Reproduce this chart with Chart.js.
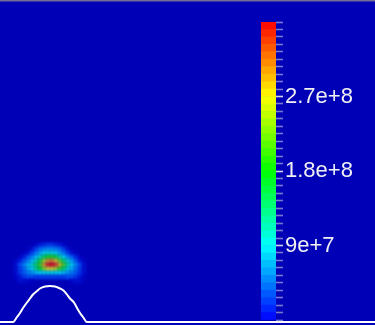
<!DOCTYPE html>
<html>
<head>
<meta charset="utf-8">
<script src="https://cdn.jsdelivr.net/npm/chart.js@4"></script>
<style>
  html, body { margin: 0; padding: 0; background: rgb(0, 0, 182); overflow: hidden; }
  #wrap { position: relative; width: 375px; height: 325px; }
  #field { position: absolute; left: 0; top: 0; }
  #bar { position: absolute; left: 261px; top: 0; }
</style>
</head>
<body>
<div id="wrap">
  <canvas id="field" width="375" height="325"></canvas>
  <canvas id="bar" width="114" height="325"></canvas>
</div>
<script>
// color range of the legend bar
const colorMin = 0;
const colorMax = 3.576e8;
const bandCount = 40; // ticks / colour steps on the bar
const colorLabels = { 10: "9e+7", 20: "1.8e+8", 30: "2.7e+8" };

// field sample grid (values in 1e8)
const heatX = [16, 20, 24, 28, 32, 36, 40, 44, 48, 52, 56, 60, 64, 68, 72, 76, 80, 84];
const heatY = [245, 249, 253, 257, 261, 265, 269, 273, 277, 281];
const heatRows = [
  [0, 0, 0, 0, 0, 0.1, 0.2, 0.25, 0.3, 0.3, 0.25, 0.2, 0.1, 0, 0, 0, 0, 0],
  [0, 0, 0, 0.05, 0.15, 0.3, 0.45, 0.55, 0.6, 0.6, 0.55, 0.45, 0.3, 0.15, 0.05, 0, 0, 0],
  [0, 0, 0.05, 0.15, 0.3, 0.5, 0.7, 0.9, 1.0, 1.0, 0.9, 0.7, 0.5, 0.3, 0.15, 0.05, 0, 0],
  [0, 0.1, 0.2, 0.35, 0.55, 0.8, 1.1, 1.55, 1.85, 1.9, 1.65, 1.25, 0.9, 0.6, 0.4, 0.25, 0.1, 0],
  [0.1, 0.2, 0.35, 0.55, 0.8, 1.15, 1.7, 2.4, 2.95, 3.05, 2.75, 2.15, 1.5, 1.05, 0.7, 0.4, 0.2, 0.1],
  [0.15, 0.35, 0.55, 0.8, 1.05, 1.5, 2.0, 2.9, 3.45, 3.55, 3.35, 2.8, 2.05, 1.3, 0.9, 0.6, 0.35, 0.15],
  [0.15, 0.3, 0.45, 0.7, 0.95, 1.3, 1.75, 2.3, 2.7, 2.7, 2.5, 1.95, 1.5, 1.05, 0.75, 0.5, 0.3, 0.15],
  [0.15, 0.3, 0.4, 0.55, 0.65, 0.8, 0.9, 0.95, 1.0, 1.0, 0.95, 0.9, 0.8, 0.65, 0.55, 0.4, 0.3, 0.15],
  [0.1, 0.2, 0.3, 0.35, 0.35, 0.3, 0.3, 0.3, 0.3, 0.3, 0.3, 0.3, 0.3, 0.35, 0.35, 0.3, 0.2, 0.1],
  [0.05, 0.15, 0.15, 0.1, 0.05, 0, 0, 0, 0, 0, 0, 0, 0, 0, 0.1, 0.15, 0.15, 0.05]
];

// white wall outline (bump on the floor)
const wallX = [0, 13, 17, 20, 23, 27, 30, 33, 37, 40, 45, 50, 55, 60, 64, 67, 70, 74, 77, 80, 83, 87, 375];
const wallY = [322, 322, 317, 313, 308, 302.5, 298.5, 294.5, 291, 288.5, 286.5, 286, 286.5, 288.5, 291, 294.5, 298.5, 302.5, 308, 313, 317, 322, 322];

const bg = [0, 0, 182];

// blue -> red rainbow (hsv)
function rainbow(v) {
  const t = Math.min(1, Math.max(0, (v - colorMin) / (colorMax - colorMin)));
  const h = 240 * (1 - t) / 60;
  const i = Math.min(3, Math.floor(h));
  const f = h - i;
  let r, g, b;
  switch (i) {
    case 0: r = 1; g = f; b = 0; break;
    case 1: r = 1 - f; g = 1; b = 0; break;
    case 2: r = 0; g = 1; b = f; break;
    default: r = 0; g = 1 - f; b = 1;
  }
  return [r * 255, g * 255, b * 255];
}

function cellColor(v) {
  const c = rainbow(v);
  const a = Math.min(1, v / 0.35e8);
  const mix = c.map((x, k) => Math.round(a * x + (1 - a) * bg[k]));
  return `rgb(${mix[0]},${mix[1]},${mix[2]})`;
}

const cells = [];
heatRows.forEach((row, r) => {
  row.forEach((v, c) => {
    if (v > 0) cells.push({ x: heatX[c], y: heatY[r], v: v * 1e8 });
  });
});

const wall = wallX.map((x, i) => ({ x, y: wallY[i] }));

// soften the sampled cells a little
const soften = {
  id: "soften",
  beforeDatasetDraw(chart, args) {
    if (args.index === 0) {
      chart.ctx.save();
      chart.ctx.filter = "blur(1.4px)";
    }
  },
  afterDatasetDraw(chart, args) {
    if (args.index === 0) chart.ctx.restore();
  },
};

new Chart(document.getElementById("field"), {
  type: "scatter",
  data: {
    datasets: [
      {
        data: cells,
        order: 1,
        pointStyle: "rect",
        pointRadius: 2.83,
        borderWidth: 0,
        backgroundColor: (c) => (c.raw ? cellColor(c.raw.v) : "rgba(0,0,0,0)"),
      },
      {
        data: wall,
        order: 0,
        showLine: true,
        borderColor: "#ffffff",
        borderWidth: 2,
        pointRadius: 0,
        cubicInterpolationMode: "monotone",
      },
      {
        data: [{ x: 0, y: 0.8 }, { x: 375, y: 0.8 }],
        order: 0,
        showLine: true,
        borderColor: "rgb(110,110,150)",
        borderWidth: 1.6,
        pointRadius: 0,
      },
    ],
  },
  options: {
    responsive: false,
    animation: false,
    events: [],
    layout: { padding: 0, autoPadding: false },
    plugins: { legend: { display: false }, tooltip: { enabled: false } },
    scales: {
      x: { type: "linear", min: 0, max: 375, display: false },
      y: { type: "linear", min: 0, max: 325, reverse: true, display: false },
    },
  },
  plugins: [soften],
});

// legend bar
const bandSize = (colorMax - colorMin) / bandCount;
const bands = [];
for (let k = 0; k < bandCount; k++) {
  const mid = colorMin + (k + 0.5) * bandSize;
  const c = rainbow(mid).map(Math.round);
  bands.push({
    data: [bandSize],
    backgroundColor: `rgb(${c[0]},${c[1]},${c[2]})`,
    borderWidth: 0,
    barPercentage: 1,
    categoryPercentage: 1,
  });
}

new Chart(document.getElementById("bar"), {
  type: "bar",
  data: { labels: [""], datasets: bands },
  options: {
    responsive: false,
    animation: false,
    events: [],
    layout: { padding: { top: 22, bottom: 5, left: 0, right: 0 } },
    plugins: { legend: { display: false }, tooltip: { enabled: false } },
    scales: {
      x: { stacked: true, display: false },
      y: {
        stacked: true,
        position: "right",
        min: colorMin,
        max: colorMax,
        afterBuildTicks: (s) => {
          s.ticks = [];
          for (let i = 0; i <= bandCount; i++) s.ticks.push({ value: colorMin + i * bandSize });
        },
        afterFit: (s) => {
          s.width = 99;
          s.paddingTop = 0;
          s.paddingBottom = 0;
        },
        border: { display: false },
        grid: {
          drawOnChartArea: false,
          drawTicks: true,
          tickLength: 7,
          tickWidth: 1.6,
          tickColor: (c) => (colorLabels[c.index] ? "rgba(235,235,245,0.9)" : "rgba(185,185,225,0.65)"),
        },
        ticks: {
          autoSkip: false,
          padding: 2,
          color: "#f0f0f4",
          font: { family: "'Liberation Sans', Arial, sans-serif", size: 22 },
          callback: (val, i) => colorLabels[i] || "",
        },
      },
    },
  },
});
</script>
</body>
</html>
